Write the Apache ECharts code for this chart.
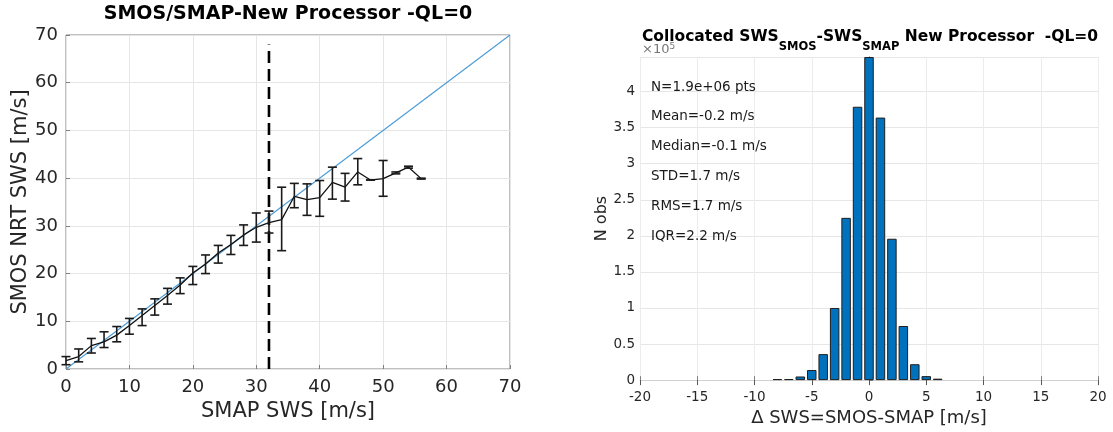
<!DOCTYPE html>
<html><head><meta charset="utf-8">
<script src="https://cdn.jsdelivr.net/npm/echarts@6/dist/echarts.min.js"></script>
<style>html,body{margin:0;padding:0;background:#fff}#c{width:1113px;height:432px}</style>
</head><body><div id="c"></div>
<script>
// ---- Left panel: SMOS vs SMAP binned wind speed ----
const smapSws = [0,2,4,6,8,10,12,14,16,18,20,22,24,26,28,30,32,34,36,38,40,42,44,46,48,50,52,54,56];
const smosMean = [1.75,2.6,4.9,5.7,7.1,9.1,11.2,13.3,15.4,17.6,20.1,22.0,24.3,26.1,28.1,29.7,30.7,31.3,36.2,35.5,35.9,39.1,38.1,41.3,39.6,39.9,41.1,42.3,39.9];
const smosHi   = [2.6,4.2,6.4,7.8,8.9,10.6,12.6,14.7,16.9,19.1,21.5,23.9,25.9,28.0,30.2,32.7,33.1,38.1,38.9,38.8,39.5,42.3,41.0,44.1,39.6,43.7,41.3,42.5,40.0];
const smosLo   = [0.9,1.5,3.35,4.5,5.7,7.3,9.1,11.3,13.6,15.8,17.7,20.0,22.2,24.0,25.9,26.6,28.5,24.8,33.8,32.2,32.0,35.6,35.2,38.6,39.6,36.2,40.9,42.1,39.8];
const oneToOne = [[0,0],[70,70]];
const thresholdSws = 32;
const leftTicks = {min:0, max:70, step:10};

// ---- Right panel: histogram of differences (counts in units of 1e5) ----
const diffBins   = [-8,-7,-6,-5,-4,-3,-2,-1,0,1,2,3,4,5,6];
const diffCounts = [0.015,0.015,0.05,0.14,0.36,1.0,2.25,3.79,4.48,3.64,1.96,0.75,0.22,0.055,0.02];
const statsLines = ['N=1.9e+06 pts','Mean=-0.2 m/s','Median=-0.1 m/s','STD=1.7 m/s','RMS=1.7 m/s','IQR=2.2 m/s'];
const rightX = {min:-20, max:20, step:5};
const rightY = {min:0, max:4.48, step:0.5};

const FF = 'DejaVu Sans';
const TXT = '#262626';

const chart = echarts.init(document.getElementById('c'));

const leftGrid = {left:66, top:35, width:444, height:334};
const rightGrid = {left:640, top:57, width:458, height:326};

const statsGraphics = statsLines.map((t,i)=>({
  type:'text', x:651, y:87 + i*29.8, z:10,
  style:{text:t, font:'13.5px "'+FF+'"', fill:'#1a1a1a', verticalAlign:'middle', align:'left'}
}));

chart.setOption({
  animation:false,
  backgroundColor:'#fff',
  grid:[
    Object.assign({show:true, borderColor:'#808080', borderWidth:1, backgroundColor:'transparent'}, leftGrid),
    Object.assign({show:false}, rightGrid)
  ],
  xAxis:[
    {gridIndex:0, type:'value', min:leftTicks.min, max:leftTicks.max, interval:leftTicks.step,
     axisLine:{show:false}, axisTick:{show:true, inside:true, length:4, lineStyle:{color:'#808080'}},
     axisLabel:{fontSize:18, color:TXT, margin:9, fontFamily:FF},
     splitLine:{show:true, lineStyle:{color:'#e6e6e6', width:1}},
     name:'SMAP SWS [m/s]', nameLocation:'middle', nameGap:23,
     nameTextStyle:{fontSize:21, color:TXT, fontFamily:FF}},
    {gridIndex:1, type:'value', min:rightX.min, max:rightX.max, interval:rightX.step,
     axisLine:{show:true, onZero:false, lineStyle:{color:'#d0d0d0'}},
     axisTick:{show:true, inside:true, length:4, lineStyle:{color:'#808080'}},
     axisLabel:{fontSize:13.5, color:TXT, margin:10, fontFamily:FF},
     splitLine:{show:true, lineStyle:{color:'#ececec', width:1}},
     name:'\u0394 SWS=SMOS-SMAP [m/s]', nameLocation:'middle', nameGap:28,
     nameTextStyle:{fontSize:18, color:TXT, fontFamily:FF}},
    {gridIndex:1, type:'value', position:'top', min:rightX.min, max:rightX.max, interval:rightX.step,
     axisLine:{show:false}, axisTick:{show:true, inside:true, length:5, lineStyle:{color:'#555'}},
     axisLabel:{show:false}, splitLine:{show:false}}
  ],
  yAxis:[
    {gridIndex:0, type:'value', min:leftTicks.min, max:leftTicks.max, interval:leftTicks.step,
     axisLine:{show:false}, axisTick:{show:true, inside:true, length:4, lineStyle:{color:'#808080'}},
     axisLabel:{fontSize:18, color:TXT, margin:8, fontFamily:FF},
     splitLine:{show:true, lineStyle:{color:'#e6e6e6', width:1}},
     name:'SMOS NRT SWS [m/s]', nameLocation:'middle', nameGap:33,
     nameTextStyle:{fontSize:21, color:TXT, fontFamily:FF}},
    {gridIndex:1, type:'value', min:rightY.min, max:rightY.max, interval:rightY.step,
     axisLine:{show:false}, axisTick:{show:true, inside:true, length:4, lineStyle:{color:'#808080'}},
     axisLabel:{fontSize:13.5, color:TXT, margin:5, fontFamily:FF, showMaxLabel:false,
       formatter:v=> (Math.abs(v/rightY.step - Math.round(v/rightY.step))<1e-6 ? String(v) : '')},
     splitLine:{show:true, lineStyle:{color:'#e6e6e6', width:1}},
     name:'N obs', nameLocation:'middle', nameGap:30,
     nameTextStyle:{fontSize:16, color:TXT, fontFamily:FF}},
    {gridIndex:1, type:'value', position:'right', min:rightY.min, max:rightY.max,
     axisLine:{show:true, lineStyle:{color:'#303030', width:1.2}}, axisTick:{show:false},
     axisLabel:{show:false}, splitLine:{show:false}}
  ],
  graphic:[
    {type:'text', x:288, y:14, z:10,
     style:{text:'SMOS/SMAP-New Processor -QL=0', font:'bold 19px "'+FF+'"', fill:'#000', align:'center', verticalAlign:'middle'}},
    {type:'text', x:642, y:42, z:5,
     style:{text:'{b|\u00d710}{p|5}', align:'left', verticalAlign:'top',
       rich:{b:{fontSize:13, fontFamily:FF, fill:'#777', lineHeight:14, verticalAlign:'bottom', padding:[4,0,0,0]},
             p:{fontSize:9, fontFamily:FF, fill:'#777', lineHeight:10, verticalAlign:'top'}}}},
    {type:'text', x:870, y:29, z:10,
     style:{text:'{a|Collocated SWS}{s|SMOS}{a|-SWS}{s|SMAP}{a| New Processor  -QL=0}',
       align:'center', verticalAlign:'top',
       rich:{a:{fontSize:15.5, fontWeight:'bold', fontFamily:FF, fill:'#000', lineHeight:18, verticalAlign:'top'},
             s:{fontSize:11.5, fontWeight:'bold', fontFamily:FF, fill:'#000', lineHeight:13, padding:[12.5,0,0,0], verticalAlign:'top'}}}}
  ].concat(statsGraphics),
  series:[
    {type:'line', xAxisIndex:0, yAxisIndex:0, data:oneToOne, symbol:'none',
     lineStyle:{color:'#4a9ad6', width:1.1}, z:2},
    {type:'line', xAxisIndex:0, yAxisIndex:0, data:[[thresholdSws,0],[thresholdSws,68]], symbol:'none',
     lineStyle:{color:'#000', width:2.6, type:[12,6]}, z:3},
    {type:'line', xAxisIndex:0, yAxisIndex:0, data:smapSws.map((x,i)=>[x,smosMean[i]]), symbol:'none',
     lineStyle:{color:'#111', width:1.3}, z:4},
    {type:'custom', xAxisIndex:0, yAxisIndex:0, z:5,
     data:smapSws.map((x,i)=>[x,smosLo[i],smosHi[i]]),
     encode:{x:0, y:[1,2]},
     renderItem:function(params, api){
       const x = api.value(0), lo = api.value(1), hi = api.value(2);
       const pH = api.coord([x,hi]), pL = api.coord([x,lo]);
       const w = 4.5;
       const st = {stroke:'#1a1a1a', lineWidth:1.6, fill:null};
       return {type:'group', children:[
         {type:'line', shape:{x1:pH[0],y1:pH[1],x2:pL[0],y2:pL[1]}, style:st},
         {type:'line', shape:{x1:pH[0]-w,y1:pH[1],x2:pH[0]+w,y2:pH[1]}, style:st},
         {type:'line', shape:{x1:pL[0]-w,y1:pL[1],x2:pL[0]+w,y2:pL[1]}, style:st}
       ]};
     }},
    {type:'bar', xAxisIndex:1, yAxisIndex:1, data:diffBins.map((b,i)=>[b,diffCounts[i]]),
     barWidth:9.5, itemStyle:{color:'#0072BD', borderColor:'#1f1f1f', borderWidth:1}}
  ]
});
</script></body></html>
